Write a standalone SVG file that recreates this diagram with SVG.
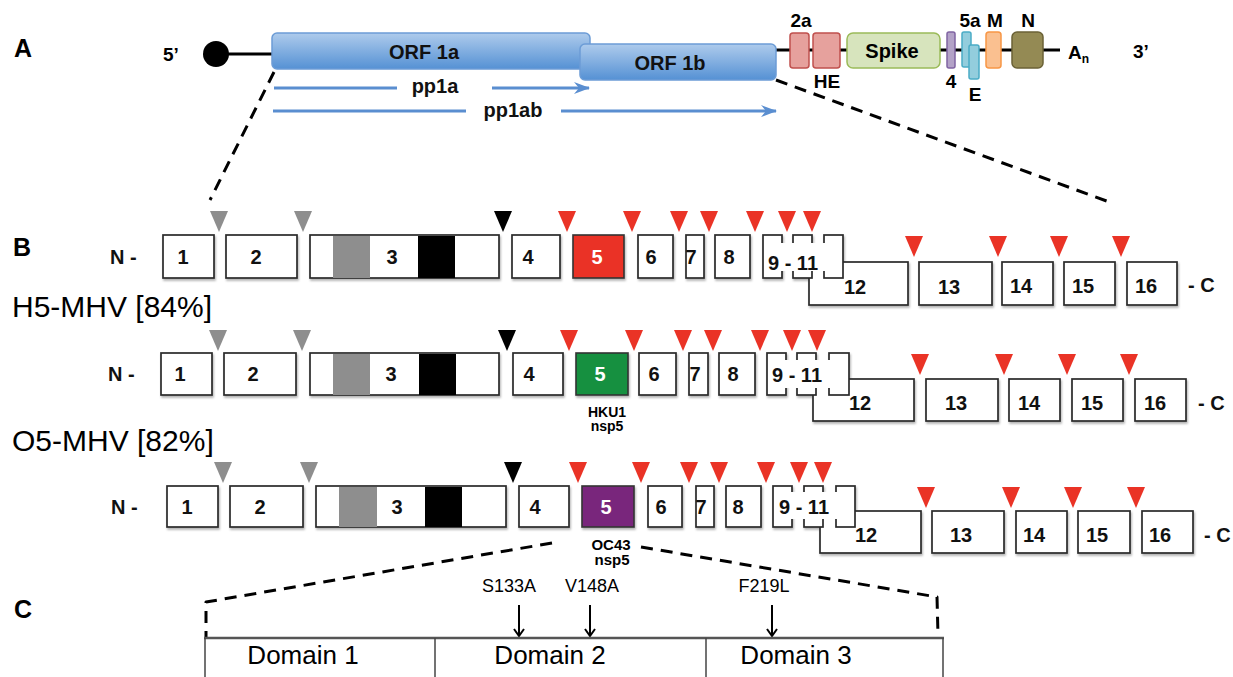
<svg xmlns="http://www.w3.org/2000/svg" width="1233" height="677" viewBox="0 0 1233 677">
<defs>
<linearGradient id="orf" x1="0" y1="0" x2="0" y2="1"><stop offset="0" stop-color="#aecbec"/><stop offset="1" stop-color="#5591d4"/></linearGradient>
<filter id="sh" x="-10%" y="-10%" width="130%" height="140%"><feDropShadow dx="1" dy="2" stdDeviation="1.2" flood-color="#000" flood-opacity="0.3"/></filter>
<marker id="bh" viewBox="0 0 16 12" refX="15" refY="6" markerWidth="16" markerHeight="12" markerUnits="userSpaceOnUse" orient="auto"><path d="M0,0 L16,6 L0,12 L5,6 Z" fill="#5A8ED0"/></marker>
<marker id="kh" viewBox="0 0 12 12" refX="6" refY="11" markerWidth="12" markerHeight="12" markerUnits="userSpaceOnUse" orient="0"><path d="M1,4 L6,11 L11,4" fill="none" stroke="#000" stroke-width="2"/></marker>
<path id="tri" d="M-9,0 L9,0 L0,21 Z"/>
</defs>
<style>
.t{font-family:"Liberation Sans",Arial,sans-serif}
.b{font-weight:bold}
.box{fill:#fff;stroke:#2a2a2a;stroke-width:1.7}
.num{font-family:"Liberation Sans",Arial,sans-serif;font-weight:bold;font-size:20px;text-anchor:middle;fill:#111}
.lab{font-family:"Liberation Sans",Arial,sans-serif;font-weight:bold;font-size:20px;fill:#111}
.red{fill:#ea3326}
.gr{fill:#8e8e8e}
.dash{fill:none;stroke:#000;stroke-width:3;stroke-dasharray:12 8}
.blue{stroke:#5A8ED0;stroke-width:3;fill:none}
.gene{stroke-width:1.5}
</style>

<!-- Panel A -->
<g id="panelA">
<text class="t b" x="14" y="57" font-size="25">A</text>
<text class="t b" x="163" y="61" font-size="19">5’</text>
<line x1="216" y1="54" x2="272" y2="54" stroke="#000" stroke-width="3"/>
<circle cx="216" cy="54" r="13" fill="#000"/>
<line x1="776" y1="50" x2="1060" y2="50" stroke="#000" stroke-width="3"/>
<g id="orf1a"><rect x="272" y="33" width="318" height="36" rx="5" fill="url(#orf)" stroke="#6c9cd6" stroke-width="1.5"/>
<text class="t b" x="424" y="59" font-size="20" text-anchor="middle" fill="#111">ORF 1a</text></g>
<g id="orf1b"><rect x="580" y="44" width="196" height="36" rx="5" fill="url(#orf)" stroke="#6c9cd6" stroke-width="1.5"/>
<text class="t b" x="670" y="70" font-size="20" text-anchor="middle" fill="#111">ORF 1b</text></g>
<g id="pp1a"><line class="blue" x1="274" y1="88" x2="397" y2="88"/><line class="blue" x1="492" y1="88" x2="589" y2="88" marker-end="url(#bh)"/>
<text class="t b" x="435" y="93" font-size="20" text-anchor="middle" fill="#111">pp1a</text></g>
<g id="pp1ab"><line class="blue" x1="273" y1="111" x2="466" y2="111"/><line class="blue" x1="561" y1="111" x2="776" y2="111" marker-end="url(#bh)"/>
<text class="t b" x="513" y="117" font-size="20" text-anchor="middle" fill="#111">pp1ab</text></g>
<g id="g2a"><rect class="gene" x="790" y="33" width="19" height="35" rx="3" fill="#e6a19d" stroke="#c0504d"/><text class="t b" x="801" y="27" font-size="19" text-anchor="middle">2a</text></g>
<g id="gHE"><rect class="gene" x="813" y="33" width="27" height="35" rx="3" fill="#e6a19d" stroke="#c0504d"/><text class="t b" x="827" y="88" font-size="19" text-anchor="middle">HE</text></g>
<g id="gS"><rect class="gene" x="847" y="33" width="93" height="35" rx="6" fill="#d7e4bd" stroke="#9bbb59"/><text class="t b" x="892" y="58" font-size="20" text-anchor="middle">Spike</text></g>
<g id="g4"><rect class="gene" x="947" y="32" width="8" height="36" rx="2" fill="#b3a2c7" stroke="#8064a2"/><text class="t b" x="951" y="88" font-size="19" text-anchor="middle">4</text></g>
<g id="g5a"><rect class="gene" x="962" y="32" width="9" height="35" rx="2" fill="#93cddd" stroke="#4bacc6"/><text class="t b" x="970" y="27" font-size="19" text-anchor="middle">5a</text></g>
<g id="gE"><rect class="gene" x="969" y="45" width="10" height="34" rx="2" fill="#93cddd" stroke="#4bacc6"/><text class="t b" x="975" y="101" font-size="19" text-anchor="middle">E</text></g>
<g id="gM"><rect class="gene" x="986" y="32" width="15" height="36" rx="3" fill="#fac090" stroke="#f79646"/><text class="t b" x="995" y="27" font-size="19" text-anchor="middle">M</text></g>
<g id="gN"><rect class="gene" x="1012" y="32" width="31" height="36" rx="5" fill="#948a54" stroke="#6b6236"/><text class="t b" x="1028" y="27" font-size="19" text-anchor="middle">N</text></g>
<text class="t b" x="1068" y="59" font-size="19">A<tspan font-size="12" dy="4">n</tspan></text>
<text class="t b" x="1133" y="58" font-size="19">3’</text>
</g>

<g id="connectors">
<path class="dash" d="M274,72 L210,200"/>
<path class="dash" d="M776,80 L1112,203"/>
<path class="dash" d="M552,543 L206,602 L206,637" stroke-linejoin="round"/>
<path class="dash" d="M641,547 L937,597 L938,635" stroke-linejoin="round"/>
<line x1="519" y1="605" x2="519" y2="636" stroke="#000" stroke-width="2" marker-end="url(#kh)"/>
<line x1="590" y1="605" x2="590" y2="636" stroke="#000" stroke-width="2" marker-end="url(#kh)"/>
<line x1="772" y1="605" x2="772" y2="636" stroke="#000" stroke-width="2" marker-end="url(#kh)"/>
</g>

<!-- Panel B -->
<text class="t b" x="13" y="256" font-size="25">B</text>

<g id="row1">
<text class="lab" x="110" y="264">N -</text>
<g filter="url(#sh)">
<rect class="box" x="809" y="262" width="99" height="43"/>
<rect class="box" x="163" y="235" width="51" height="43"/>
<rect class="box" x="226" y="235" width="71" height="43"/>
<rect class="box" x="310" y="235" width="189" height="43"/>
<rect class="box" x="512" y="235" width="48" height="43"/>
<rect x="573" y="235" width="51" height="43" fill="#ea3326" stroke="#333" stroke-width="1.6"/>
<rect class="box" x="638" y="235" width="35" height="43"/>
<rect class="box" x="686" y="235" width="18" height="43"/>
<rect class="box" x="715" y="235" width="35" height="43"/>
<rect class="box" x="763" y="235" width="19" height="43"/>
<rect class="box" x="793" y="235" width="19" height="43"/>
<rect class="box" x="824" y="235" width="19" height="43"/>
<rect class="box" x="919" y="262" width="73" height="43"/>
<rect class="box" x="1002" y="262" width="51" height="43"/>
<rect class="box" x="1064" y="262" width="51" height="43"/>
<rect class="box" x="1127" y="262" width="50" height="43"/>
</g>
<rect x="333" y="236" width="37" height="42" fill="#8e8e8e"/>
<rect x="418" y="236" width="37" height="42" fill="#000"/>
<rect x="781" y="243" width="46" height="28" fill="#fff"/>
<g class="num">
<text x="183" y="264">1</text><text x="256" y="264">2</text><text x="392" y="264">3</text><text x="528" y="264">4</text><text x="597" y="264" fill="#fff">5</text><text x="651" y="264">6</text><text x="691" y="264">7</text><text x="729" y="264">8</text>
<text x="793" y="270">9 - 11</text>
<text x="855" y="294">12</text><text x="949" y="294">13</text><text x="1021" y="293">14</text><text x="1083" y="293">15</text><text x="1146" y="293">16</text>
</g>
<text class="lab" x="1188" y="292">- C</text>
<use href="#tri" x="219" y="211" class="gr"/><use href="#tri" x="303" y="211" class="gr"/><use href="#tri" x="503" y="211"/>
<g class="red"><use href="#tri" x="567" y="211"/><use href="#tri" x="632" y="211"/><use href="#tri" x="679" y="211"/><use href="#tri" x="709" y="211"/><use href="#tri" x="755" y="211"/><use href="#tri" x="787" y="211"/><use href="#tri" x="812" y="211"/>
<use href="#tri" x="914" y="236"/><use href="#tri" x="998" y="236"/><use href="#tri" x="1059" y="236"/><use href="#tri" x="1121" y="236"/></g>
</g>

<text class="t" x="12" y="317" font-size="30">H5-MHV [84%]</text>

<g id="row2">
<text class="lab" x="108" y="381">N -</text>
<g filter="url(#sh)">
<rect class="box" x="813" y="379" width="101" height="42"/>
<rect class="box" x="161" y="353" width="51" height="42"/>
<rect class="box" x="224" y="353" width="72" height="42"/>
<rect class="box" x="310" y="353" width="189" height="42"/>
<rect class="box" x="513" y="353" width="50" height="42"/>
<rect x="576" y="353" width="52" height="42" fill="#12903f" stroke="#333" stroke-width="1.6"/>
<rect class="box" x="639" y="353" width="37" height="42"/>
<rect class="box" x="689" y="353" width="19" height="42"/>
<rect class="box" x="719" y="353" width="36" height="42"/>
<rect class="box" x="767" y="353" width="19" height="42"/>
<rect class="box" x="797" y="353" width="19" height="42"/>
<rect class="box" x="829" y="353" width="20" height="42"/>
<rect class="box" x="926" y="379" width="72" height="42"/>
<rect class="box" x="1009" y="379" width="51" height="42"/>
<rect class="box" x="1072" y="379" width="51" height="42"/>
<rect class="box" x="1135" y="379" width="51" height="42"/>
</g>
<rect x="333" y="354" width="37" height="41" fill="#8e8e8e"/>
<rect x="419" y="354" width="37" height="41" fill="#000"/>
<rect x="784" y="360" width="48" height="28" fill="#fff"/>
<g class="num">
<text x="180" y="381">1</text><text x="253" y="381">2</text><text x="391" y="381">3</text><text x="529" y="381">4</text><text x="600" y="381" fill="#fff">5</text><text x="654" y="381">6</text><text x="695" y="381">7</text><text x="733" y="381">8</text>
<text x="797" y="382">9 - 11</text>
<text x="860" y="410">12</text><text x="956" y="410">13</text><text x="1029" y="410">14</text><text x="1092" y="410">15</text><text x="1155" y="410">16</text>
</g>
<text class="lab" x="1198" y="410">- C</text>
<text class="t b" x="607" y="417" font-size="14" text-anchor="middle">HKU1</text>
<text class="t b" x="607" y="431" font-size="14" text-anchor="middle">nsp5</text>
<use href="#tri" x="218" y="330" class="gr"/><use href="#tri" x="302" y="330" class="gr"/><use href="#tri" x="507" y="330"/>
<g class="red"><use href="#tri" x="569" y="330"/><use href="#tri" x="634" y="330"/><use href="#tri" x="683" y="330"/><use href="#tri" x="713" y="330"/><use href="#tri" x="760" y="330"/><use href="#tri" x="792" y="330"/><use href="#tri" x="817" y="330"/>
<use href="#tri" x="920" y="354"/><use href="#tri" x="1004" y="354"/><use href="#tri" x="1067" y="354"/><use href="#tri" x="1129" y="354"/></g>
</g>

<text class="t" x="12" y="451" font-size="30">O5-MHV [82%]</text>

<g id="row3">
<text class="lab" x="111" y="514">N -</text>
<g filter="url(#sh)">
<rect class="box" x="820" y="511" width="101" height="42"/>
<rect class="box" x="167" y="486" width="51" height="41"/>
<rect class="box" x="230" y="486" width="73" height="41"/>
<rect class="box" x="316" y="486" width="190" height="41"/>
<rect class="box" x="519" y="486" width="50" height="41"/>
<rect x="582" y="486" width="52" height="41" fill="#79287c" stroke="#333" stroke-width="1.6"/>
<rect class="box" x="648" y="486" width="34" height="41"/>
<rect class="box" x="696" y="486" width="18" height="41"/>
<rect class="box" x="726" y="486" width="35" height="41"/>
<rect class="box" x="773" y="486" width="19" height="41"/>
<rect class="box" x="804" y="486" width="19" height="41"/>
<rect class="box" x="836" y="486" width="19" height="41"/>
<rect class="box" x="932" y="511" width="72" height="42"/>
<rect class="box" x="1016" y="511" width="51" height="42"/>
<rect class="box" x="1078" y="511" width="52" height="42"/>
<rect class="box" x="1142" y="511" width="51" height="42"/>
</g>
<rect x="339" y="487" width="38" height="40" fill="#8e8e8e"/>
<rect x="425" y="487" width="37" height="40" fill="#000"/>
<rect x="790" y="492" width="49" height="27" fill="#fff"/>
<g class="num">
<text x="187" y="514">1</text><text x="260" y="514">2</text><text x="397" y="514">3</text><text x="535" y="514">4</text><text x="606" y="514" fill="#fff">5</text><text x="661" y="514">6</text><text x="701" y="514">7</text><text x="738" y="514">8</text>
<text x="804" y="514">9 - 11</text>
<text x="866" y="542">12</text><text x="961" y="542">13</text><text x="1034" y="542">14</text><text x="1097" y="542">15</text><text x="1160" y="542">16</text>
</g>
<text class="lab" x="1204" y="542">- C</text>
<text class="t b" x="611" y="550" font-size="15" text-anchor="middle">OC43</text>
<text class="t b" x="612" y="565" font-size="15" text-anchor="middle">nsp5</text>
<use href="#tri" x="223" y="462" class="gr"/><use href="#tri" x="309" y="462" class="gr"/><use href="#tri" x="513" y="462"/>
<g class="red"><use href="#tri" x="578" y="462"/><use href="#tri" x="641" y="462"/><use href="#tri" x="689" y="462"/><use href="#tri" x="719" y="462"/><use href="#tri" x="766" y="462"/><use href="#tri" x="799" y="462"/><use href="#tri" x="823" y="462"/>
<use href="#tri" x="926" y="487"/><use href="#tri" x="1011" y="487"/><use href="#tri" x="1073" y="487"/><use href="#tri" x="1136" y="487"/></g>
</g>

<!-- Panel C -->
<text class="t b" x="14" y="618" font-size="25">C</text>
<g id="domains">
<line x1="204" y1="638" x2="944" y2="638" stroke="#555" stroke-width="2.5"/>
<line x1="205" y1="638" x2="205" y2="677" stroke="#444" stroke-width="1.5"/>
<line x1="435" y1="638" x2="435" y2="677" stroke="#444" stroke-width="1.5"/>
<line x1="706" y1="638" x2="706" y2="677" stroke="#444" stroke-width="1.5"/>
<line x1="943" y1="638" x2="943" y2="677" stroke="#444" stroke-width="1.5"/>
<text class="t" x="303" y="664" font-size="26" text-anchor="middle">Domain 1</text>
<text class="t" x="550" y="664" font-size="26" text-anchor="middle">Domain 2</text>
<text class="t" x="796" y="664" font-size="26" text-anchor="middle">Domain 3</text>
</g>
<g id="mutations" class="t" font-size="18" text-anchor="middle">
<text x="509" y="592">S133A</text>
<text x="592" y="592">V148A</text>
<text x="764" y="592">F219L</text>
</g>
</svg>
